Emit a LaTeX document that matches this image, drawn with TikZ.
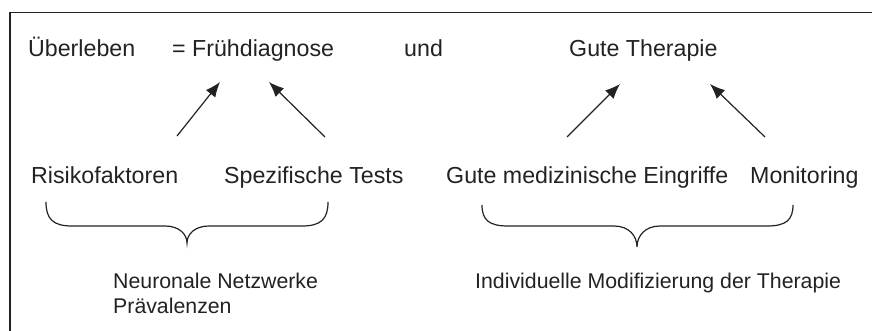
\documentclass[tikz,border=0pt]{standalone}
\usepackage{fontspec}
\setmainfont{Liberation Sans}
\usetikzlibrary{arrows.meta}
\definecolor{ink}{HTML}{222222}
\begin{document}
\begin{tikzpicture}[x=1pt,y=-1pt,
  lbl/.style={anchor=base west,inner sep=0pt,text=ink,font=\fontsize{23.2}{26}\selectfont},
  lblsmall/.style={lbl,font=\fontsize{21.3}{25}\selectfont},
  arr/.style={-{Latex[length=15pt,width=12pt]},line width=1.2pt,draw=ink},
  brc/.style={line width=1.2pt,draw=ink},
  frm/.style={line width=1.6pt,draw=ink}]
\useasboundingbox (0,0) rectangle (872,331);
% frame (top and left edges only)
\draw[frm] (872,12.5) -- (10,12.5) -- (10,331);
% top row
\node[lbl] (ueb) at (28,57) {Überleben};
\node[lbl] (fru) at (172,57) {= Frühdiagnose};
\node[lbl] (und) at (404,57) {und};
\node[lbl] (gut) at (569,57) {Gute Therapie};
% second row
\node[lbl] (ris) at (31,184) {Risikofaktoren};
\node[lbl] (spe) at (224,184) {Spezifische Tests};
\node[lbl] (gme) at (446,184) {Gute medizinische Eingriffe};
\node[lbl] (mon) at (750,184) {Monitoring};
% bottom labels
\node[lblsmall] (nn1) at (113,288) {Neuronale Netzwerke};
\node[lblsmall] (nn2) at (113,313) {Prävalenzen};
\node[lblsmall] (imt) at (475,288) {Individuelle Modifizierung der Therapie};
% arrow end points
\coordinate (a1s) at (177,136); \coordinate (a1e) at (220,82);
\coordinate (a2s) at (325,137); \coordinate (a2e) at (269,82);
\coordinate (a3s) at (567,137); \coordinate (a3e) at (620,84);
\coordinate (a4s) at (765,137); \coordinate (a4e) at (710,84);
\draw[arr] (a1s) -- (a1e);
\draw[arr] (a2s) -- (a2e);
\draw[arr] (a3s) -- (a3e);
\draw[arr] (a4s) -- (a4e);
% braces
\draw[brc] (46,202) .. controls (46,219) and (53,226) .. (72,226)
  -- (165,226) .. controls (179,226) and (187,234) .. (187,243)
  .. controls (187,234) and (195,226) .. (209,226)
  -- (302,226) .. controls (321,226) and (328,219) .. (328,202);
\draw[brc] (482,205) .. controls (482,220) and (489,226) .. (508,226)
  -- (614,226) .. controls (629,226) and (637,236) .. (637,247)
  .. controls (637,236) and (645,226) .. (660,226)
  -- (767,226) .. controls (786,226) and (793,220) .. (793,205);
\end{tikzpicture}
\end{document}
